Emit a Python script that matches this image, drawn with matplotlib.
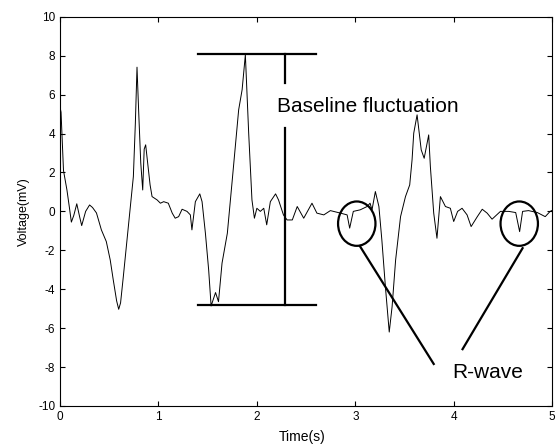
import numpy as np
import matplotlib.pyplot as plt
from matplotlib.patches import Ellipse

plt.rcParams['font.family'] = ['Liberation Sans', 'DejaVu Sans']
plt.rcParams['axes.unicode_minus'] = False

# ECG trace (time in s, voltage in mV)
t = [0.00, 0.01, 0.035, 0.07, 0.095, 0.115, 0.14, 0.17, 0.20, 0.22, 0.26, 0.30,
     0.33, 0.37, 0.42, 0.47, 0.51, 0.54, 0.575, 0.596, 0.615, 0.643, 0.694,
     0.745, 0.765, 0.782, 0.80, 0.82, 0.84, 0.855, 0.87, 0.89, 0.915, 0.935,
     0.986, 1.02, 1.053, 1.10, 1.14, 1.17, 1.205, 1.24, 1.29, 1.324, 1.34,
     1.375, 1.42, 1.443,
     1.477, 1.51, 1.535, 1.58, 1.61, 1.646, 1.70, 1.75, 1.815, 1.85, 1.883,
     1.917, 1.95, 1.975, 2.0, 2.035, 2.07, 2.10, 2.137, 2.19, 2.22, 2.27,
     2.307, 2.36, 2.41, 2.476, 2.56, 2.61, 2.68, 2.747, 2.85, 2.917, 2.943,
     2.98, 3.05, 3.12, 3.15, 3.17, 3.204, 3.24, 3.27, 3.306, 3.345, 3.374,
     3.41, 3.46,
     3.51, 3.553, 3.577, 3.594, 3.628, 3.67, 3.70, 3.746, 3.763, 3.797, 3.83,
     3.865, 3.916, 3.966, 4.0, 4.04, 4.085, 4.136, 4.177, 4.24, 4.29, 4.34,
     4.39, 4.475, 4.56, 4.63, 4.67, 4.70, 4.76, 4.85, 4.93, 4.98, 5.0]
v = [5.35, 5.1, 2.1, 1.1, 0.2, -0.55, -0.2, 0.39, -0.3, -0.73, 0.0, 0.33,
     0.2, -0.08, -0.95, -1.55, -2.5, -3.5, -4.6, -5.03, -4.7, -3.35, -0.78,
     1.79, 4.5, 7.41, 5.0, 2.5, 1.1, 3.2, 3.42, 2.5, 1.36, 0.76,
     0.59, 0.42, 0.5, 0.42, -0.09, -0.35, -0.27, 0.11, 0.0, -0.18, -0.95,
     0.5, 0.9, 0.5,
     -1.12, -3.0, -4.86, -4.17, -4.64, -2.66, -1.12, 1.62, 5.22, 6.25, 8.05,
     4.0, 0.59, -0.35, 0.16, 0.0, 0.16, -0.69, 0.5, 0.9, 0.59, -0.18,
     -0.44, -0.44, 0.25, -0.35, 0.42, -0.09, -0.18, 0.04, -0.09, -0.18, -0.86,
     0.0, 0.08, 0.25, 0.42, 0.08, 1.02, 0.25, -1.47, -3.87, -6.2, -4.9,
     -2.49, -0.27,
     0.76, 1.36, 2.65, 4.02, 4.96, 3.16, 2.73, 3.93, 2.3, -0.09, -1.38,
     0.76, 0.25, 0.16, -0.52, 0.0, 0.16, -0.18, -0.78, -0.27, 0.11, -0.09,
     -0.4, 0.0, 0.0, -0.06, -1.04, 0.0, 0.04, -0.06, -0.27, 0.0, 0.05]

# annotation positions
bar_x = 2.29
bar_top, bar_bottom = 8.1, -4.81
bar_span = (1.4, 2.6)
rwave_t = [3.015, 4.666]

fig = plt.figure(figsize=(5.56, 4.44), dpi=100)
ax = fig.add_axes([0.108, 0.0856, 0.885, 0.8766])

ax.plot(t, v, color='black', lw=0.7)

# baseline fluctuation marker
ax.plot(bar_span, [bar_top, bar_top], color='black', lw=1.6)
ax.plot(bar_span, [bar_bottom, bar_bottom], color='black', lw=1.6)
ax.plot([bar_x, bar_x], [bar_top, 6.6], color='black', lw=1.6)
ax.plot([bar_x, bar_x], [4.3, bar_bottom], color='black', lw=1.6)
ax.text(2.2, 5.4, 'Baseline fluctuation', fontsize=15, va='center', ha='left')

# R-wave circles and pointers
for tc in rwave_t:
    ax.add_patch(Ellipse((tc, -0.63), 0.38, 2.28, fill=False, ec='black', lw=1.6))
ax.plot([3.05, 3.797], [-1.81, -7.84], color='black', lw=1.6)
ax.plot([4.70, 4.09], [-1.89, -7.08], color='black', lw=1.6)
ax.text(3.99, -8.29, 'R-wave', fontsize=15, va='center', ha='left')

ax.set_xlim(0, 5)
ax.set_ylim(-10, 10)
ax.set_xticks(np.arange(0, 6, 1))
ax.set_yticks(np.arange(-10, 11, 2))
ax.tick_params(direction='in', top=True, right=True, length=3.5, labelsize=8.5)
ax.set_xlabel('Time(s)', fontsize=10)
ax.set_ylabel('Voltage(mV)', fontsize=9)
ax.xaxis.set_label_coords(0.491, -0.062)
ax.yaxis.set_label_coords(-0.062, 0.5)

fig.savefig('out.png', dpi=100)
